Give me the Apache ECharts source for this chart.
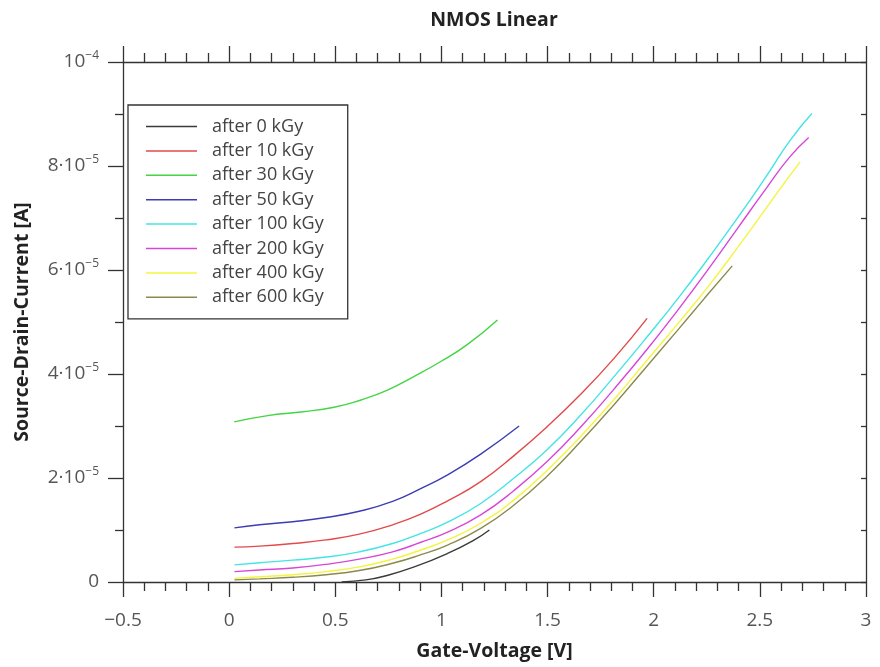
<!DOCTYPE html>
<html>
<head>
<meta charset="utf-8">
<script src="https://cdn.jsdelivr.net/npm/echarts@6/dist/echarts.min.js"></script>
<style>html,body{margin:0;padding:0;background:#fff}#c{width:880px;height:667px}</style>
</head>
<body>
<div id="c"></div>
<script>
// Gate voltage [V] vs Source-drain current [A]
const seriesNames = ['after 0 kGy','after 10 kGy','after 30 kGy','after 50 kGy','after 100 kGy','after 200 kGy','after 400 kGy','after 600 kGy'];
const seriesColors = ['#3a3a3a','#e24a4a','#44d444','#3c3cb4','#44e4e4','#d846d8','#f4f440','#8a8a4e'];

const kGy0 = [[0.53,0.0e-5],[0.644,0.04e-5],[0.738,0.12e-5],[0.872,0.29e-5],[1.029,0.55e-5],[1.155,0.81e-5],[1.226,1.0e-5]];
const kGy10 = [[0.025,0.67e-5],[0.143,0.69e-5],[0.30,0.74e-5],[0.456,0.81e-5],[0.613,0.92e-5],[0.770,1.10e-5],[0.90,1.30e-5],[1.029,1.56e-5],[1.185,1.93e-5],[1.342,2.43e-5],[1.499,2.99e-5],[1.656,3.61e-5],[1.813,4.30e-5],[1.969,5.07e-5]];
const kGy30 = [[0.024,3.08e-5],[0.182,3.20e-5],[0.339,3.27e-5],[0.494,3.36e-5],[0.621,3.50e-5],[0.746,3.69e-5],[0.870,3.95e-5],[0.997,4.24e-5],[1.123,4.57e-5],[1.264,5.04e-5]];
const kGy50 = [[0.025,1.04e-5],[0.143,1.10e-5],[0.300,1.16e-5],[0.456,1.24e-5],[0.613,1.36e-5],[0.770,1.55e-5],[0.90,1.79e-5],[1.029,2.06e-5],[1.185,2.46e-5],[1.366,3.0e-5]];
const kGy100 = [[0.025,0.33e-5],[0.143,0.37e-5],[0.30,0.42e-5],[0.456,0.48e-5],[0.613,0.58e-5],[0.770,0.74e-5],[0.90,0.93e-5],[1.029,1.15e-5],[1.185,1.51e-5],[1.342,2.00e-5],[1.499,2.55e-5],[1.656,3.21e-5],[1.813,3.95e-5],[1.97,4.72e-5],[2.11,5.43e-5],[2.26,6.24e-5],[2.40,7.03e-5],[2.53,7.80e-5],[2.64,8.48e-5],[2.745,9.01e-5]];
const kGy200 = [[0.025,0.20e-5],[0.143,0.23e-5],[0.30,0.27e-5],[0.456,0.34e-5],[0.613,0.44e-5],[0.770,0.58e-5],[0.90,0.76e-5],[1.029,0.96e-5],[1.185,1.29e-5],[1.342,1.76e-5],[1.499,2.32e-5],[1.656,2.98e-5],[1.813,3.71e-5],[1.97,4.48e-5],[2.11,5.21e-5],[2.26,6.03e-5],[2.40,6.83e-5],[2.53,7.57e-5],[2.64,8.17e-5],[2.73,8.55e-5]];
const kGy400 = [[0.025,0.07e-5],[0.143,0.10e-5],[0.30,0.14e-5],[0.456,0.20e-5],[0.613,0.29e-5],[0.770,0.44e-5],[0.90,0.61e-5],[1.029,0.81e-5],[1.185,1.13e-5],[1.342,1.58e-5],[1.499,2.15e-5],[1.656,2.80e-5],[1.813,3.51e-5],[1.97,4.27e-5],[2.11,4.95e-5],[2.26,5.70e-5],[2.40,6.46e-5],[2.53,7.19e-5],[2.62,7.70e-5],[2.69,8.08e-5]];
const kGy600 = [[0.025,0.04e-5],[0.143,0.06e-5],[0.30,0.09e-5],[0.456,0.14e-5],[0.613,0.22e-5],[0.770,0.36e-5],[0.90,0.52e-5],[1.029,0.71e-5],[1.185,1.03e-5],[1.342,1.48e-5],[1.499,2.04e-5],[1.656,2.70e-5],[1.813,3.41e-5],[1.97,4.16e-5],[2.11,4.83e-5],[2.24,5.46e-5],[2.37,6.08e-5]];
const seriesData = [kGy0,kGy10,kGy30,kGy50,kGy100,kGy200,kGy400,kGy600];

const xTickLabels = {'-0.5':'\u22120.5','0':'0','0.5':'0.5','1':'1','1.5':'1.5','2':'2','2.5':'2.5','3':'3'};
const yTickLabels = {0:'{m|0}',1:'{m|2·10}{s|\u22125}',2:'{m|4·10}{s|\u22125}',3:'{m|6·10}{s|\u22125}',4:'{m|8·10}{s|\u22125}',5:'{m|10}{s|\u22124}'};

const FONT = 'Open Sans';
const chart = echarts.init(document.getElementById('c'), null, {renderer:'canvas'});
const axisLineStyle = {color:'#333', width:1.3};
const legendIcon = 'path://M0,0H60V1.8H0Z';
chart.setOption({
  animation:false,
  backgroundColor:'#fff',
  textStyle:{fontFamily:FONT},
  title:{text:'NMOS Linear', left:489, textAlign:'center', top:5,
    textStyle:{fontFamily:FONT, fontWeight:'bold', fontSize:19.5, color:'#222'}},
  legend:{
    orient:'vertical', left:128, top:105,
    padding:[12.5,24,12.5,18], itemGap:6.4, itemWidth:51, itemHeight:14,
    borderColor:'#333', borderWidth:1.3, backgroundColor:'#fff',
    textStyle:{fontFamily:FONT, fontSize:18, lineHeight:18, color:'#444', padding:[0,0,0,10]},
    data:seriesNames.map(n=>({name:n, icon:legendIcon}))
  },
  grid:{left:123, right:14, top:62, bottom:85},
  xAxis:[{
    type:'value', min:-0.5, max:3, interval:0.5, position:'bottom',
    name:'Gate-Voltage [V]', nameLocation:'middle', nameGap:59,
    nameTextStyle:{fontFamily:FONT, fontWeight:'bold', fontSize:19.5, color:'#222'},
    axisLine:{onZero:false, lineStyle:axisLineStyle},
    axisTick:{show:true, inside:false, length:15, lineStyle:axisLineStyle},
    minorTick:{show:true, splitNumber:5, length:9, lineStyle:axisLineStyle},
    splitLine:{show:false},
    axisLabel:{margin:29, fontFamily:FONT, fontSize:19, color:'#555',
      formatter:v=>xTickLabels[String(Math.round(v*10)/10)]}
  },{
    type:'value', min:-0.5, max:3, interval:0.5, position:'top',
    axisLine:{onZero:false, lineStyle:axisLineStyle},
    axisTick:{show:true, inside:false, length:16, lineStyle:axisLineStyle},
    minorTick:{show:true, splitNumber:5, length:9, lineStyle:axisLineStyle},
    splitLine:{show:false}, axisLabel:{show:false}
  }],
  yAxis:[{
    type:'value', min:0, max:1e-4, interval:2e-5, position:'left',
    name:'Source-Drain-Current [A]', nameLocation:'middle', nameGap:91,
    nameTextStyle:{fontFamily:FONT, fontWeight:'bold', fontSize:19.5, color:'#222'},
    axisLine:{onZero:false, lineStyle:axisLineStyle},
    axisTick:{show:true, inside:false, length:15, lineStyle:axisLineStyle},
    minorTick:{show:true, splitNumber:2, length:8, lineStyle:axisLineStyle},
    splitLine:{show:false},
    axisLabel:{margin:24, fontFamily:FONT, color:'#555',
      formatter:v=>yTickLabels[Math.round(v/2e-5)],
      rich:{m:{fontFamily:FONT, fontSize:19, color:'#555'},
            s:{fontFamily:FONT, fontSize:12, color:'#555', padding:[0,0,12,0]}}}
  },{
    type:'value', min:0, max:1e-4, interval:1e-5, position:'right',
    axisLine:{onZero:false, lineStyle:axisLineStyle},
    axisTick:{show:true, inside:true, length:5, lineStyle:axisLineStyle},
    splitLine:{show:false}, axisLabel:{show:false}
  }],
  series:seriesNames.map((n,i)=>({
    name:n, type:'line', xAxisIndex:0, yAxisIndex:0,
    data:seriesData[i], smooth:true, symbol:'none', showSymbol:false,
    lineStyle:{color:seriesColors[i], width:1.4},
    itemStyle:{color:seriesColors[i]},
    z:10-i
  }))
});
</script>
</body>
</html>
